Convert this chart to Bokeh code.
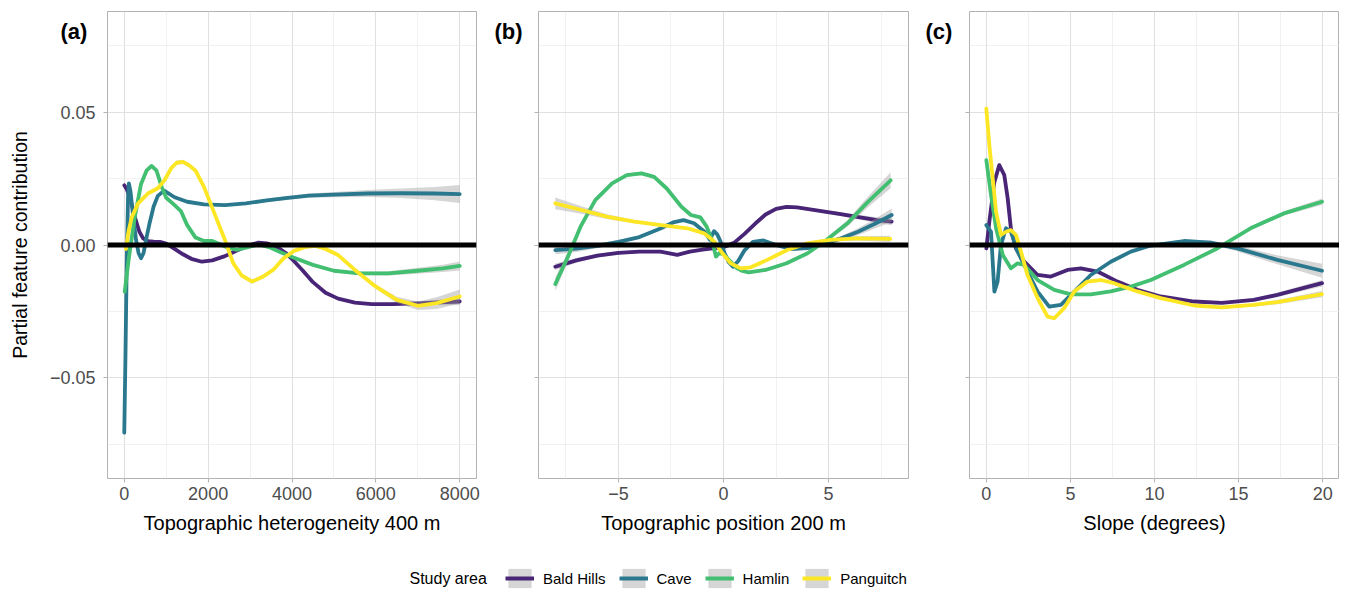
from bokeh.plotting import figure
from bokeh.layouts import row, column
from bokeh.models import (ColumnDataSource, Range1d, FixedTicker, CustomJSTickFormatter,
                          Span, Label, Legend, LegendItem)
from bokeh.embed import file_html
from bokeh.resources import INLINE

AREAS = ["Bald Hills", "Cave", "Hamlin", "Panguitch"]
COLORS = ["#482576", "#2A788E", "#43BF71", "#FDE725"]
FONT = "Liberation Sans"

# ---------------- Panel (a): Topographic heterogeneity 400 m ----------------
a_bald_x = [0, 60, 120, 200, 280, 360, 450, 560, 700, 850, 1000, 1200, 1400, 1600, 1850, 2100, 2400,
            2700, 3000, 3200, 3400, 3650, 3850, 4000, 4250, 4500, 4800, 5100, 5500, 5900, 6400, 7000, 7500, 8000]
a_bald_y = [0.0225, 0.021, 0.0185, 0.014, 0.009, 0.005, 0.0025, 0.0015, 0.0013, 0.0012, 0.0005, -0.0015,
            -0.0035, -0.0052, -0.0063, -0.0058, -0.0042, -0.002, 0.0, 0.0009, 0.0006, -0.0008, -0.003,
            -0.0053, -0.0095, -0.014, -0.018, -0.0202, -0.0217, -0.0223, -0.0223, -0.022, -0.0216, -0.0213]
a_bald_se = [0.0012, 0.001, 0.0008, 0.0006, 0.0005, 0.0005, 0.0005, 0.0005, 0.0005, 0.0005, 0.0004, 0.0004,
             0.0004, 0.0004, 0.0004, 0.0004, 0.0004, 0.0004, 0.0004, 0.0004, 0.0004, 0.0004, 0.0004,
             0.0004, 0.0004, 0.0004, 0.0004, 0.0004, 0.0004, 0.0004, 0.0005, 0.0007, 0.001, 0.0014]

a_cave_x = [0, 30, 60, 90, 110, 150, 210, 280, 340, 400, 460, 520, 600, 700, 800, 950, 1200, 1500, 1900,
            2400, 2900, 3400, 3900, 4400, 5000, 5800, 6600, 7400, 8000]
a_cave_y = [-0.0707, -0.040, -0.005, 0.018, 0.0232, 0.020, 0.011, 0.002, -0.003, -0.005, -0.003, 0.002,
            0.008, 0.0145, 0.0185, 0.0205, 0.018, 0.0163, 0.0153, 0.015, 0.0157, 0.0168, 0.0178, 0.0186,
            0.019, 0.0194, 0.0195, 0.0194, 0.0192]
a_cave_se = [0.0005, 0.0005, 0.0005, 0.0005, 0.0005, 0.0005, 0.0005, 0.0005, 0.0005, 0.0005, 0.0005, 0.0005,
             0.0005, 0.0005, 0.0005, 0.0005, 0.0005, 0.0005, 0.0005, 0.0005, 0.0005, 0.0006, 0.0007, 0.0008,
             0.001, 0.0013, 0.0018, 0.0025, 0.0034]

a_hamlin_x = [10, 100, 250, 400, 530, 650, 770, 890, 1000, 1200, 1350, 1500, 1700, 1900, 2100, 2300, 2500,
              2700, 2950, 3200, 3450, 3700, 4000, 4500, 5000, 5600, 6300, 7000, 7600, 8000]
a_hamlin_y = [-0.0176, -0.006, 0.0105, 0.023, 0.028, 0.0298, 0.028, 0.022, 0.0178, 0.015, 0.0128, 0.0075,
              0.0028, 0.0015, 0.0015, 0.0002, -0.0012, -0.0018, -0.0008, 0.0002, -0.0008, -0.0025, -0.0045,
              -0.0075, -0.0097, -0.0107, -0.0107, -0.0097, -0.0088, -0.0079]
a_hamlin_se = [0.001, 0.0007, 0.0005, 0.0005, 0.0005, 0.0005, 0.0005, 0.0005, 0.0005, 0.0005, 0.0005, 0.0005,
               0.0005, 0.0005, 0.0005, 0.0005, 0.0005, 0.0005, 0.0005, 0.0005, 0.0005, 0.0005, 0.0005,
               0.0005, 0.0005, 0.0006, 0.0008, 0.0011, 0.0014, 0.0017]

a_pang_x = [40, 100, 180, 330, 570, 800, 960, 1120, 1250, 1400, 1550, 1700, 1900, 2150, 2400, 2600, 2800,
            3050, 3300, 3550, 3800, 4050, 4300, 4550, 4800, 5100, 5500, 6000, 6500, 7000, 7450, 8000]
a_pang_y = [-0.0015, 0.005, 0.0105, 0.0157, 0.0195, 0.0214, 0.0244, 0.029, 0.031, 0.0313, 0.030, 0.028,
            0.0219, 0.0119, 0.0019, -0.0069, -0.0115, -0.0138, -0.012, -0.0094, -0.005, -0.0022, -0.0008,
            -0.0003, -0.0015, -0.0038, -0.0094, -0.0157, -0.0207, -0.0229, -0.0219, -0.0194]
a_pang_se = [0.001, 0.0008, 0.0006, 0.0006, 0.0006, 0.0006, 0.0006, 0.0007, 0.0008, 0.0008, 0.0008, 0.0007,
             0.0006, 0.0006, 0.0006, 0.0006, 0.0007, 0.0008, 0.0007, 0.0006, 0.0006, 0.0006, 0.0006,
             0.0006, 0.0006, 0.0006, 0.0006, 0.0008, 0.0012, 0.0016, 0.0022, 0.0026]

# ---------------- Panel (b): Topographic position 200 m ----------------
b_bald_x = [-8, -7, -6, -5, -4, -3, -2.2, -1.6, -1.0, -0.5, 0, 0.5, 1.0, 1.5, 2.0, 2.5, 3.0, 3.5, 4.5,
            5.5, 6.5, 7.3, 8.0]
b_bald_y = [-0.0082, -0.0058, -0.004, -0.003, -0.0025, -0.0025, -0.0037, -0.0025, -0.0017, -0.0013,
            -0.0008, 0.0008, 0.0042, 0.008, 0.0115, 0.0136, 0.0144, 0.0142, 0.013, 0.0117, 0.0104, 0.0094, 0.0088]
b_bald_se = [0.0012, 0.0009, 0.0007, 0.0006, 0.0005, 0.0005, 0.0005, 0.0005, 0.0005, 0.0005, 0.0005,
             0.0005, 0.0005, 0.0005, 0.0005, 0.0005, 0.0005, 0.0005, 0.0006, 0.0007, 0.0009, 0.0011, 0.0014]

b_cave_x = [-8, -7, -6, -5, -4, -3, -2.4, -1.9, -1.4, -0.9, -0.65, -0.45, -0.3, -0.15, 0.05, 0.25, 0.45,
            0.7, 1.0, 1.4, 1.9, 2.5, 3.2, 4.0, 4.8, 5.6, 6.4, 7.2, 8.0]
b_cave_y = [-0.0019, -0.0014, -0.0003, 0.0012, 0.003, 0.0062, 0.0085, 0.0094, 0.0082, 0.005, 0.002, 0.0052,
            0.004, 0.0015, -0.003, -0.0065, -0.0082, -0.006, -0.002, 0.0012, 0.0017, 0.0, -0.0015, -0.0012,
            0.0005, 0.0025, 0.005, 0.008, 0.0113]
b_cave_se = [0.0016, 0.0012, 0.0009, 0.0007, 0.0006, 0.0005, 0.0005, 0.0005, 0.0005, 0.0005, 0.0005, 0.0005,
             0.0005, 0.0005, 0.0005, 0.0005, 0.0005, 0.0005, 0.0005, 0.0005, 0.0005, 0.0005, 0.0005, 0.0006,
             0.0007, 0.0009, 0.0013, 0.0018, 0.0025]

b_hamlin_x = [-8, -7.4, -6.8, -6.1, -5.3, -4.6, -3.9, -3.3, -2.7, -2.0, -1.55, -1.1, -0.8, -0.55, -0.36,
              -0.2, 0.0, 0.3, 0.6, 0.9, 1.2, 2.0, 3.0, 4.0, 4.9, 5.9, 6.8, 7.95]
b_hamlin_y = [-0.0147, -0.0044, 0.0069, 0.0169, 0.0232, 0.0263, 0.027, 0.0257, 0.0213, 0.0144, 0.0113,
              0.0104, 0.0069, 0.0019, -0.0044, -0.003, -0.0035, -0.006, -0.0085, -0.0098, -0.0103, -0.0094,
              -0.0069, -0.0031, 0.0019, 0.0082, 0.0157, 0.0244]
b_hamlin_se = [0.0026, 0.0018, 0.0012, 0.0008, 0.0006, 0.0006, 0.0006, 0.0006, 0.0006, 0.0006, 0.0006,
               0.0006, 0.0006, 0.0006, 0.0006, 0.0006, 0.0006, 0.0006, 0.0006, 0.0006, 0.0006, 0.0006,
               0.0006, 0.0006, 0.0008, 0.0012, 0.0019, 0.003]

b_pang_x = [-8, -6.76, -5.5, -4.24, -2.97, -1.71, -0.92, -0.44, -0.05, 0.34, 0.82, 1.3, 2.08, 3.03, 3.98,
            5.09, 6.35, 7.93]
b_pang_y = [0.0157, 0.0132, 0.0106, 0.0088, 0.0075, 0.0063, 0.0044, 0.0013, -0.0031, -0.0069, -0.0088,
            -0.0084, -0.0056, -0.0019, 0.0006, 0.0019, 0.0025, 0.0023]
b_pang_se = [0.0022, 0.0014, 0.0009, 0.0006, 0.0005, 0.0005, 0.0005, 0.0005, 0.0005, 0.0005, 0.0005,
             0.0005, 0.0005, 0.0005, 0.0005, 0.0006, 0.0008, 0.0012]

# ---------------- Panel (c): Slope (degrees) ----------------
c_bald_x = [0, 0.18, 0.48, 0.77, 1.07, 1.27, 1.46, 1.76, 2.26, 3.05, 3.84, 4.83, 5.62, 6.61, 7.8, 8.98,
            10.37, 12.35, 14.0, 15.9, 17.3, 19.96]
c_bald_y = [-0.0013, 0.0088, 0.0238, 0.0301, 0.0263, 0.0176, 0.0063, -0.0013, -0.0063, -0.0113, -0.0119,
            -0.0094, -0.0088, -0.01, -0.0138, -0.0169, -0.0194, -0.0213, -0.0218, -0.0207, -0.0188, -0.0144]
c_bald_se = [0.0012, 0.001, 0.0008, 0.0007, 0.0006, 0.0006, 0.0005, 0.0005, 0.0005, 0.0005, 0.0005,
             0.0005, 0.0005, 0.0005, 0.0005, 0.0005, 0.0005, 0.0005, 0.0005, 0.0006, 0.0008, 0.0012]

c_cave_x = [0, 0.28, 0.48, 0.67, 0.87, 1.17, 1.46, 1.86, 2.45, 3.05, 3.74, 4.43, 5.23, 6.21, 7.4, 8.59,
            9.78, 11.75, 13.34, 14.92, 17.3, 19.96]
c_cave_y = [0.0075, 0.005, -0.0176, -0.0138, 0.0, 0.0063, 0.005, -0.0025, -0.01, -0.0176, -0.0232,
            -0.0226, -0.0176, -0.0113, -0.0063, -0.0025, -0.0002, 0.0015, 0.0009, -0.0013, -0.0056, -0.0097]
c_cave_se = [0.0008, 0.0007, 0.0006, 0.0006, 0.0005, 0.0005, 0.0005, 0.0005, 0.0005, 0.0006, 0.0007,
             0.0006, 0.0005, 0.0005, 0.0005, 0.0005, 0.0005, 0.0006, 0.0008, 0.0011, 0.0017, 0.0026]

c_hamlin_x = [0, 0.28, 0.58, 0.98, 1.46, 1.86, 2.26, 3.05, 4.04, 5.03, 6.21, 7.4, 8.59, 9.78, 11.75,
              13.73, 15.71, 17.69, 19.96]
c_hamlin_y = [0.032, 0.0188, 0.0063, -0.0038, -0.0088, -0.0069, -0.0075, -0.0132, -0.0169, -0.0186,
              -0.0186, -0.0175, -0.0157, -0.0132, -0.0075, -0.0013, 0.0063, 0.0119, 0.0163]
c_hamlin_se = [0.0012, 0.0009, 0.0007, 0.0006, 0.0005, 0.0005, 0.0005, 0.0005, 0.0005, 0.0005, 0.0005,
               0.0005, 0.0005, 0.0005, 0.0005, 0.0005, 0.0006, 0.0008, 0.0012]

c_pang_x = [0, 0.18, 0.38, 0.58, 0.87, 1.17, 1.46, 1.76, 2.06, 2.45, 3.05, 3.64, 4.04, 4.63, 5.23, 6.0,
            6.8, 7.6, 8.98, 10.37, 12.35, 14.0, 15.9, 17.3, 19.96]
c_pang_y = [0.0514, 0.0376, 0.0251, 0.0125, 0.0038, 0.005, 0.0056, 0.0038, -0.0025, -0.0113, -0.02,
            -0.027, -0.0276, -0.0238, -0.0175, -0.0138, -0.0132, -0.0144, -0.0175, -0.02, -0.0228,
            -0.0235, -0.0226, -0.0215, -0.0185]
c_pang_se = [0.0012, 0.001, 0.0008, 0.0007, 0.0006, 0.0006, 0.0006, 0.0006, 0.0006, 0.0006, 0.0006,
             0.0007, 0.0007, 0.0006, 0.0006, 0.0005, 0.0005, 0.0005, 0.0005, 0.0005, 0.0005, 0.0005,
             0.0006, 0.0008, 0.0012]

Y_TICKS = [-0.05, 0.0, 0.05]
Y_MINOR = [-0.075, -0.025, 0.025, 0.075]
Y_LIMITS = (-0.088, 0.088)

PANELS = [
    dict(tag="(a)", xlabel="Topographic heterogeneity 400 m", xlim=(-400, 8400),
         xticks=[0, 2000, 4000, 6000, 8000], xminor=[1000, 3000, 5000, 7000],
         series=[(a_bald_x, a_bald_y, a_bald_se), (a_cave_x, a_cave_y, a_cave_se),
                 (a_hamlin_x, a_hamlin_y, a_hamlin_se), (a_pang_x, a_pang_y, a_pang_se)]),
    dict(tag="(b)", xlabel="Topographic position 200 m", xlim=(-8.8, 8.8),
         xticks=[-5, 0, 5], xminor=[-7.5, -2.5, 2.5, 7.5],
         series=[(b_bald_x, b_bald_y, b_bald_se), (b_cave_x, b_cave_y, b_cave_se),
                 (b_hamlin_x, b_hamlin_y, b_hamlin_se), (b_pang_x, b_pang_y, b_pang_se)]),
    dict(tag="(c)", xlabel="Slope (degrees)", xlim=(-1, 21),
         xticks=[0, 5, 10, 15, 20], xminor=[2.5, 7.5, 12.5, 17.5],
         series=[(c_bald_x, c_bald_y, c_bald_se), (c_cave_x, c_cave_y, c_cave_se),
                 (c_hamlin_x, c_hamlin_y, c_hamlin_se), (c_pang_x, c_pang_y, c_pang_se)]),
]

FRAME_H = 467
TOP = 11
BOTTOM = 88
LEGEND_H = 24
# (min_border_left, frame_width, min_border_right, tag offset from frame left, side panel for the tag)
LAYOUT = [
    (107, 369, 10, -47, "below"),
    (52, 370, 10, -44, "left"),
    (51, 370, 0, -44, "left"),
]

num_fmt = CustomJSTickFormatter(code="""
    var s = Math.abs(tick).toFixed(0);
    return (tick < 0 ? '\\u2212' : '') + s;
""")
y_fmt = CustomJSTickFormatter(code="""
    if (Math.abs(tick) < 1e-9) { return '0.00'; }
    return (tick < 0 ? '\\u2212' : '') + Math.abs(tick).toFixed(2);
""")
blank_fmt = CustomJSTickFormatter(code="return '';")

figs = []
sources_a = []
for i, (panel, (bl, fw, br, tag_dx, tag_side)) in enumerate(zip(PANELS, LAYOUT)):
    p = figure(frame_width=fw, frame_height=FRAME_H,
               x_range=Range1d(*panel["xlim"]), y_range=Range1d(*Y_LIMITS),
               output_backend="svg", toolbar_location=None,
               min_border_left=bl, min_border_right=br, min_border_top=TOP, min_border_bottom=BOTTOM,
               background_fill_color="white", border_fill_color="white")
    p.outline_line_color = "#b3b3b3"
    p.outline_line_width = 1

    p.xaxis.ticker = FixedTicker(ticks=panel["xticks"], minor_ticks=panel["xminor"])
    p.yaxis.ticker = FixedTicker(ticks=Y_TICKS, minor_ticks=Y_MINOR)
    for g in (p.xgrid, p.ygrid):
        g.grid_line_color = "#e0e0e0"
        g.grid_line_width = 1.1
        g.minor_grid_line_color = "#ebebeb"
        g.minor_grid_line_width = 0.7

    for ax in (p.xaxis, p.yaxis):
        ax.axis_line_color = None
        ax.major_tick_line_color = "#b3b3b3"
        ax.major_tick_line_width = 1
        ax.major_tick_out = 4
        ax.major_tick_in = 0
        ax.minor_tick_line_color = None
        ax.major_label_text_font = FONT
        ax.major_label_text_font_size = "18px"
        ax.major_label_text_color = "#4d4d4d"
        ax.axis_label_text_font = FONT
        ax.axis_label_text_font_style = "normal"
        ax.axis_label_text_color = "black"

    p.xaxis.formatter = num_fmt
    p.xaxis.major_label_standoff = 4
    p.xaxis.axis_label = panel["xlabel"]
    p.xaxis.axis_label_text_font_size = "20px"
    p.xaxis.axis_label_standoff = 9

    if i == 0:
        p.yaxis.formatter = y_fmt
        p.yaxis.major_label_standoff = 8
        p.yaxis.axis_label = "Partial feature contribution"
        p.yaxis.axis_label_text_font_size = "19.5px"
        p.yaxis.axis_label_standoff = 16
    else:
        p.yaxis.formatter = blank_fmt
        p.yaxis.major_label_standoff = 0

    for (xs, ys, se), color in zip(panel["series"], COLORS):
        lo = [y - s for y, s in zip(ys, se)]
        hi = [y + s for y, s in zip(ys, se)]
        src = ColumnDataSource(dict(x=xs, y=ys, lo=lo, hi=hi))
        if i == 0:
            sources_a.append(src)
        p.varea(x="x", y1="lo", y2="hi", source=src, fill_color="#999999", fill_alpha=0.4)
        p.line(x="x", y="y", source=src, line_color=color, line_width=3.8,
               line_join="round", line_cap="round")

    p.add_layout(Span(location=0, dimension="width", line_color="black", line_width=5))

    # panel tag, left of the frame's top-left corner; kept in a side panel so it is not clipped
    x0, x1 = panel["xlim"]
    y0, y1 = Y_LIMITS
    px_x = (x1 - x0) / fw            # data units per pixel
    px_y = (y1 - y0) / FRAME_H
    p.add_layout(Label(x=x0 + tag_dx * px_x, y=y1 - 19.5 * px_y, x_units="data", y_units="data",
                       text=panel["tag"], text_font=FONT, text_font_style="bold",
                       text_font_size="22px", text_color="black", text_baseline="alphabetic"),
                 tag_side)
    figs.append(p)

# ---------------- Legend strip ----------------
lf = figure(width=1339, height=LEGEND_H, x_range=Range1d(-1, 0), y_range=Range1d(1, 2),
            output_backend="svg", toolbar_location=None, min_border=0,
            x_axis_location=None, y_axis_location=None)
lf.outline_line_color = None
lf.xgrid.visible = False
lf.ygrid.visible = False

items = []
for name, color, src in zip(AREAS, COLORS, sources_a):
    band = lf.varea(x="x", y1="lo", y2="hi", source=src, fill_color="#999999", fill_alpha=0.4)
    ln = lf.line(x="x", y="y", source=src, line_color=color, line_width=4)
    items.append(LegendItem(label=name, renderers=[band, ln]))

leg = Legend(items=items, orientation="horizontal", location=(505, 0),
             glyph_width=29, glyph_height=LEGEND_H, label_standoff=9, spacing=13,
             padding=0, margin=0, border_line_color=None, background_fill_alpha=0,
             label_text_font=FONT, label_text_font_size="15px", label_text_color="black")
lf.add_layout(leg)
lf.add_layout(Label(x=409, y=LEGEND_H / 2, x_units="screen", y_units="screen", text="Study area",
                    text_font=FONT, text_font_size="16px", text_color="black",
                    text_baseline="middle"))

layout = column(row(*figs), lf)
open("out.html", "w").write(file_html(layout, INLINE))
